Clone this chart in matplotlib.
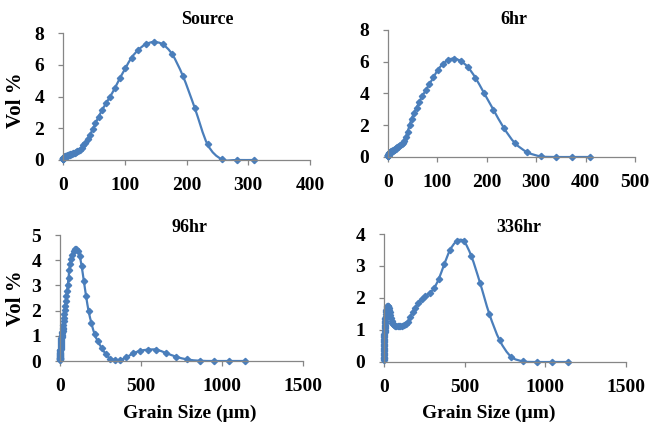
import matplotlib
matplotlib.use('Agg')
import matplotlib.pyplot as plt
from matplotlib.path import Path
from matplotlib.patches import PathPatch

# grain size bins (um)
bins = [0.375, 0.412, 0.452, 0.496, 0.545, 0.598, 0.657, 0.721, 0.791, 0.869,
        0.954, 1.047, 1.149, 1.261, 1.385, 1.520, 1.669, 1.832, 2.011, 2.208,
        2.423, 2.660, 2.920, 3.205, 3.519, 3.863, 4.240, 4.655, 5.110, 5.610,
        6.158, 6.760, 7.421, 8.147, 8.943, 9.818, 10.78, 11.83, 12.99, 14.26,
        15.65, 17.18, 18.86, 20.71, 22.73, 24.95, 27.39, 30.07, 33.01, 36.24,
        39.78, 43.67, 47.94, 52.63, 57.77, 63.42, 69.62, 76.43, 83.90, 92.10,
        101.1, 111.0, 121.8, 133.7, 146.8, 161.2, 176.8, 194.2, 213.2, 234.1,
        256.9, 282.1, 309.6, 339.9, 373.1, 409.6, 449.7, 493.6, 541.9, 594.9,
        653.0, 716.9, 786.9, 863.9, 948.3, 1041, 1143]

# Vol % per bin
source = [0.06, 0.07, 0.08, 0.08, 0.09, 0.10, 0.10, 0.11, 0.12, 0.12,
          0.13, 0.14, 0.14, 0.15, 0.15, 0.16, 0.17, 0.17, 0.18, 0.19,
          0.19, 0.20, 0.21, 0.21, 0.22, 0.23, 0.23, 0.24, 0.25, 0.26,
          0.27, 0.28, 0.29, 0.30, 0.31, 0.32, 0.33, 0.35, 0.37, 0.39,
          0.41, 0.44, 0.47, 0.50, 0.54, 0.59, 0.65, 0.73, 0.94, 1.1,
          1.3, 1.57, 1.93, 2.31, 2.73, 3.15, 3.57, 4.0, 4.52, 5.15,
          5.78, 6.45, 6.93, 7.29, 7.43, 7.29, 6.66, 5.29, 3.3, 0.98,
          0.05, 0.0, 0.0]

hr6 = [0.06, 0.07, 0.08, 0.09, 0.09, 0.10, 0.11, 0.12, 0.12, 0.13,
       0.14, 0.15, 0.16, 0.17, 0.18, 0.19, 0.20, 0.21, 0.22, 0.23,
       0.24, 0.25, 0.26, 0.27, 0.28, 0.29, 0.30, 0.31, 0.32, 0.33,
       0.34, 0.35, 0.36, 0.37, 0.38, 0.40, 0.42, 0.44, 0.46, 0.49,
       0.52, 0.56, 0.60, 0.65, 0.70, 0.76, 0.83, 0.91, 1.02, 1.25,
       1.6, 2.0, 2.42, 2.75, 3.1, 3.47, 3.85, 4.2, 4.6, 5.02,
       5.5, 5.85, 6.12, 6.2, 6.05, 5.68, 5.0, 4.04, 2.99, 1.85,
       0.88, 0.3, 0.04, 0.0, 0.0, 0.0]

hr96 = [0.05, 0.06, 0.07, 0.08, 0.09, 0.10, 0.11, 0.12, 0.13, 0.14,
        0.16, 0.18, 0.20, 0.22, 0.24, 0.26, 0.28, 0.30, 0.33, 0.36,
        0.39, 0.42, 0.45, 0.48, 0.52, 0.56, 0.60, 0.64, 0.68, 0.72,
        0.76, 0.80, 0.84, 0.88, 0.92, 0.96, 1.00, 1.05, 1.10, 1.15,
        1.20, 1.26, 1.32, 1.44, 1.58, 1.70, 1.85, 2.04, 2.2, 2.4,
        2.57, 2.78, 3.0, 3.3, 3.62, 3.85, 4.05, 4.2, 4.35, 4.43,
        4.46, 4.35, 4.15, 3.76, 3.19, 2.57, 1.97, 1.5, 1.07, 0.78,
        0.52, 0.28, 0.09, 0.04, 0.05, 0.14, 0.3, 0.4, 0.45, 0.45,
        0.32, 0.17, 0.06, 0.01, 0.0, 0.0, 0.0]

hr336 = [0.05, 0.08, 0.11, 0.14, 0.17, 0.21, 0.25, 0.29, 0.33, 0.37,
         0.41, 0.45, 0.49, 0.53, 0.57, 0.61, 0.65, 0.69, 0.73, 0.77,
         0.81, 0.85, 0.89, 0.93, 0.97, 1.01, 1.05, 1.09, 1.13, 1.17,
         1.21, 1.25, 1.29, 1.34, 1.39, 1.45, 1.50, 1.55, 1.60, 1.64,
         1.67, 1.70, 1.72, 1.74, 1.75, 1.75, 1.73, 1.69, 1.63, 1.55,
         1.46, 1.37, 1.29, 1.23, 1.18, 1.15, 1.13, 1.12, 1.12, 1.12,
         1.13, 1.14, 1.16, 1.2, 1.25, 1.4, 1.55, 1.7, 1.83, 1.97,
         2.07, 2.15, 2.3, 2.6, 3.05, 3.5, 3.77, 3.78, 3.3, 2.48,
         1.5, 0.68, 0.17, 0.02, 0.0, 0.0, 0.0]

titles = ['Source', '6hr', '96hr', '336hr']
series = [source, hr6, hr96, hr336]
xlims = [400, 500, 1500, 1500]
xsteps = [100, 100, 500, 500]
ylims = [8, 8, 5, 4]
ysteps = [2, 2, 1, 1]

W, H = 652, 434
# axes boxes in pixels: left, top, right, bottom
boxes = [(63, 33, 310, 160), (388, 30, 635, 157),
         (60, 235, 303, 361), (384, 234, 626, 362)]
title_pos = [(207, 20), (514, 20), (190, 227), (519, 227)]

blue = '#4A7EBB'
grey = '#868686'
font = {'family': 'Liberation Serif', 'weight': 'bold'}


def smooth_path(x, y):
    # Excel style smoothed line: Catmull-Rom segments as cubic Beziers
    n = len(x)
    verts = [(x[0], y[0])]
    codes = [Path.MOVETO]
    for k in range(n - 1):
        x0, y0 = (x[k - 1], y[k - 1]) if k > 0 else (x[k], y[k])
        x3, y3 = (x[k + 2], y[k + 2]) if k + 2 < n else (x[k + 1], y[k + 1])
        x1, y1 = x[k], y[k]
        x2, y2 = x[k + 1], y[k + 1]
        verts += [(x1 + (x2 - x0) / 6, y1 + (y2 - y0) / 6),
                  (x2 - (x3 - x1) / 6, y2 - (y3 - y1) / 6),
                  (x2, y2)]
        codes += [Path.CURVE4] * 3
    return Path(verts, codes)


fig = plt.figure(figsize=(W / 100, H / 100), dpi=100)

for i in range(4):
    l, t, r, b = boxes[i]
    ax = fig.add_axes([l / W, 1 - b / H, (r - l) / W, (b - t) / H])
    y = series[i]
    x = bins[:len(y)]
    ax.add_patch(PathPatch(smooth_path(x, y), fc='none', ec=blue, lw=1.6))
    ax.plot(x, y, ls='none', marker='D', ms=3.2, mec=blue, mfc=blue,
            clip_on=False)
    ax.set_xlim(0, xlims[i])
    ax.set_ylim(0, ylims[i])
    ax.set_xticks(range(0, xlims[i] + 1, xsteps[i]))
    ax.set_yticks(range(0, ylims[i] + 1, ysteps[i]))
    for s in ['top', 'right']:
        ax.spines[s].set_visible(False)
    for s in ['left', 'bottom']:
        ax.spines[s].set_color(grey)
        ax.spines[s].set_linewidth(0.9)
    ax.tick_params(direction='out', length=3.5, width=0.9, color=grey)
    ax.tick_params(axis='x', pad=9)
    ax.tick_params(axis='y', pad=10)
    for lab in ax.get_xticklabels() + ax.get_yticklabels():
        lab.set_fontfamily('Liberation Serif')
        lab.set_fontweight('bold')
        lab.set_fontsize(14)
    tx, ty = title_pos[i]
    fig.text(tx / W, 1 - ty / H, titles[i], ha='center', va='center',
             fontsize=13, **font)

fig.text(16 / W, 1 - 100 / H, 'Vol %', rotation=90, ha='center', va='center',
         fontsize=15, **font)
fig.text(16 / W, 1 - 298 / H, 'Vol %', rotation=90, ha='center', va='center',
         fontsize=15, **font)
fig.text(190 / W, 1 - 413 / H, 'Grain Size (µm)', ha='center', va='center',
         fontsize=14, **font)
fig.text(489 / W, 1 - 413 / H, 'Grain Size (µm)', ha='center', va='center',
         fontsize=14, **font)

fig.savefig('out.png', dpi=100)
